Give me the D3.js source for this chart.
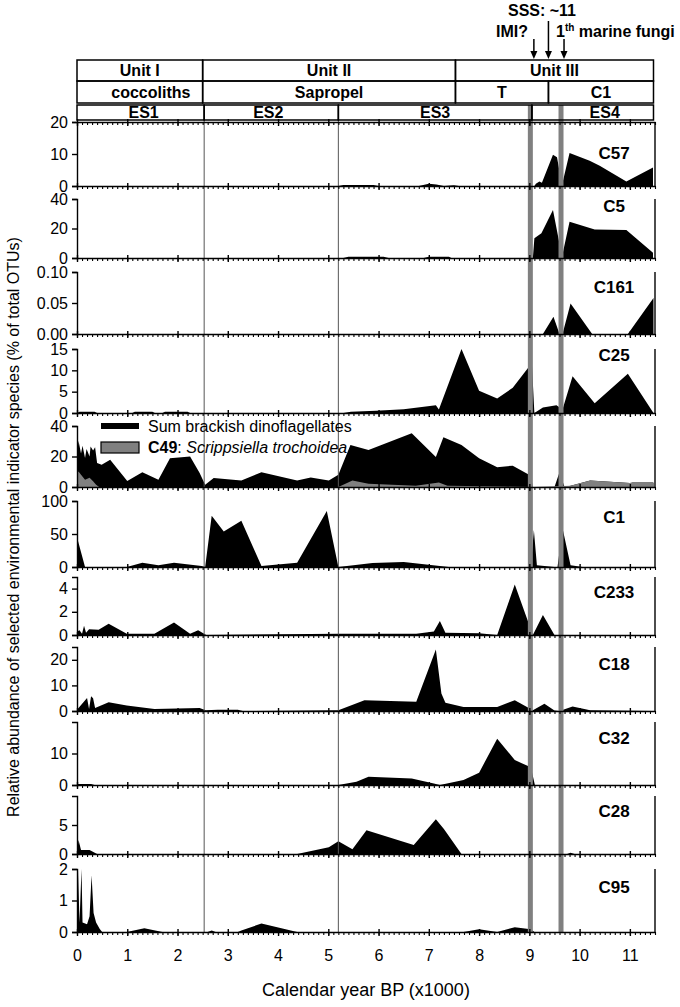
<!DOCTYPE html>
<html>
<head>
<meta charset="utf-8">
<script src="https://cdn.jsdelivr.net/npm/d3@7"></script>
<style>
body { margin:0; background:#fff; }
svg text { font-family:"Liberation Sans", Arial, sans-serif; fill:#000; }
</style>
</head>
<body>
<svg id="chart"></svg>
<script>
// ---- data, years in ka BP ----
var c57 = [[0,0],[5.2,0],[5.3,0.3],[5.9,0.3],[6.0,0],[6.8,0],[7.0,0.7],[7.15,0.5],[7.3,0],[7.5,0.2],[7.6,0],[9.1,0],[9.13,0.7],[9.2,1.4],[9.25,1.0],[9.47,9.8],[9.55,9.0],[9.65,0.3],[9.8,10.3],[10.2,7.9],[10.4,6.3],[10.93,1.4],[11.46,5.8]];
var c5 = [[0,0],[5.3,0],[5.4,0.8],[6.1,0.8],[6.2,0],[6.9,0],[7.0,0.8],[7.4,0.8],[7.45,0],[9.07,0],[9.1,13.4],[9.24,16.8],[9.47,32.5],[9.65,0.9],[9.8,24.6],[10.3,19.4],[10.93,19],[11.46,3.6]];
var c161 = [[0,0],[9.27,0],[9.48,0.028],[9.6,0],[9.66,0],[9.82,0.049],[10.25,0],[10.96,0],[11.47,0.058]];
var c25 = [[0,0],[0.05,0.3],[0.35,0.3],[0.4,0],[1.1,0],[1.15,0.3],[1.5,0.3],[1.55,0],[1.7,0],[1.75,0.3],[2.2,0.3],[2.25,0],[5.3,0],[5.45,0.3],[5.95,0.5],[6.5,0.9],[7.14,1.8],[7.2,0.8],[7.65,15],[8.0,5.2],[8.36,3.4],[8.67,5.9],[9.05,11.7],[9.1,0],[9.27,1.3],[9.54,1.8],[9.66,0.8],[9.86,8.6],[10.3,2.3],[10.96,9.2],[11.47,0]];
var sumBrackish = [[0,20],[0.03,30.4],[0.08,22],[0.11,27],[0.16,19],[0.19,25],[0.25,20],[0.27,26.5],[0.32,24],[0.36,26],[0.4,15.7],[0.49,14.6],[0.66,17.9],[1.0,4.0],[1.3,9.6],[1.62,4.8],[1.85,18.9],[2.25,20],[2.44,9.1],[2.55,1.5],[2.72,5.9],[3.27,4.3],[3.67,9.6],[4.38,4.3],[4.65,6.3],[5.01,4.3],[5.2,8],[5.44,27.6],[5.8,24.3],[6.66,35.2],[7.14,19.6],[7.29,32.6],[7.65,27.6],[8.0,18.9],[8.36,13],[8.67,14],[9.03,7.4],[9.07,0],[9.5,0],[9.6,9.6],[9.7,0],[9.82,0.9],[10.21,4.3],[11.0,2.6],[11.05,3.0],[11.47,3.0]];
var c49 = [[0,9],[0.03,10.2],[0.08,8],[0.16,4.8],[0.25,6],[0.32,3.7],[0.38,1.5],[0.44,0],[5.2,0],[5.48,4.3],[5.8,2.2],[6.74,0.9],[7.2,3],[7.37,0.9],[8.5,0.3],[9.05,0],[9.82,0.9],[10.21,4.3],[11.0,2.6],[11.47,2.6]];
var c1 = [[0,45],[0.16,0],[0.99,0],[1.3,6.6],[1.62,2.5],[1.93,6.6],[2.48,1.5],[2.55,0],[2.68,77.5],[2.92,53.6],[3.27,70],[3.67,1.5],[4.38,6.6],[4.97,84.7],[5.2,0],[5.88,6],[6.5,7.6],[7.22,1.5],[7.4,0],[9.03,0],[9.09,56],[9.15,2.5],[9.5,0],[9.56,0],[9.66,58.7],[9.82,2.5],[10.06,0]];
var c233 = [[0,0.3],[0.05,0.4],[0.1,0.1],[0.14,0.8],[0.18,0.2],[0.24,0.5],[0.43,0.45],[0.63,0.96],[0.99,0.1],[1.54,0.1],[1.93,1.08],[2.25,0.1],[2.41,0.4],[2.57,0],[5.2,0.1],[6.75,0.1],[7.1,0.3],[7.22,1.2],[7.33,0.2],[8.0,0.15],[8.36,0],[8.71,4.36],[9.07,0],[9.27,1.73],[9.5,0]];
var c18 = [[0,0.5],[0.2,5.1],[0.24,0.8],[0.28,5.8],[0.32,5.0],[0.36,1.2],[0.63,3.4],[0.99,2.1],[1.54,0.8],[2.44,1.2],[2.56,0.3],[2.8,0.5],[3.2,0.5],[3.3,0],[5.2,0.26],[5.72,4.2],[6.75,3.6],[7.14,24],[7.25,6.8],[7.33,3.2],[7.69,1.6],[8.36,1.6],[8.71,4.2],[9.07,0.26],[9.3,2.8],[9.5,0.2],[9.6,0],[9.86,1.8],[10.21,0.3],[11.47,0]];
var c32 = [[0,0.3],[0.28,0.3],[0.35,0],[5.2,0],[5.56,1.05],[5.8,2.6],[6.66,2.1],[7.1,0.5],[7.22,0],[7.69,1.6],[8.0,3.9],[8.36,14.7],[8.71,7.9],[9.03,5.6],[9.11,0]];
var c28 = [[0,0],[0.03,2.4],[0.08,0.7],[0.25,0.7],[0.4,0],[4.38,0],[5.01,1.15],[5.2,2.2],[5.48,0.8],[5.76,4.1],[6.7,1.55],[7.14,6.0],[7.3,4.3],[7.65,0],[9.75,0],[9.82,0.2],[9.9,0]];
var c95 = [[0,0.3],[0.02,2.0],[0.05,0.3],[0.09,2.0],[0.11,0.3],[0.2,0.25],[0.25,0.5],[0.29,1.8],[0.33,0.6],[0.38,0.3],[0.45,0.1],[0.5,0],[0.99,0],[1.34,0.12],[1.7,0],[2.6,0],[2.68,0.05],[2.76,0],[3.2,0],[3.27,0.05],[3.67,0.27],[4.38,0],[7.69,0],[8.0,0.09],[8.36,0],[8.71,0.15],[9.03,0.09],[9.1,0]];

var panelSeries = [c57, c5, c161, c25, sumBrackish, c1, c233, c18, c32, c28, c95];
var panelNames = ["C57","C5","C161","C25","","C1","C233","C18","C32","C28","C95"];
var panelMax = [20, 40, 0.1, 15, 40, 100, 5, 25, 20, 10, 2];
var panelTicks = [[0,10,20],[0,20,40],[0,0.05,0.1],[0,5,10,15],[0,20,40],[0,50,100],[0,2,4],[0,10,20],[0,10],[0,5],[0,1,2]];

var xMajorTicks = [0,1,2,3,4,5,6,7,8,9,10,11];

var unitNames = ["Unit I","Unit II","Unit III"];
var unitBounds = [0, 2.5, 7.53, 11.47];
var layerNames = ["coccoliths","Sapropel","T","C1"];
var layerBounds = [0, 2.5, 7.53, 9.38, 11.47];
var esNames = ["ES1","ES2","ES3","ES4"];
var esBounds = [0, 2.53, 5.2, 9.05, 11.47];
var bandYears = [9.02, 9.63];
var arrowYears = [9.09, 9.38, 9.69];

// ---- layout ----
var W = 680, H = 1007;
var panelTop =    [122, 199, 272, 349, 426, 501, 577, 647, 722, 796, 869];
var panelBottom = [186, 258, 334, 413, 487, 567, 635, 711, 785, 854, 932];
var labelDy =     [31, 7, 15, 6, 0, 16, 15, 17, 16, 15, 18];

var svg = d3.select("#chart")
    .attr("width", W)
    .attr("height", H);

//x scale shared by all panels
var x = d3.scaleLinear()
    .domain([0, 11.5])
    .range([77, 655]);

var minorTicks = d3.range(0, 116).map(function(i){ return i/10; });

var styleAxis = function(g)
{
    g.selectAll("path, line")
        .attr("stroke", "#000")
        .attr("stroke-width", 1.4);
    g.selectAll("text")
        .attr("font-family", "Liberation Sans, Arial, sans-serif")
        .attr("font-size", 16)
        .attr("fill", "#000");
};

var drawXTicks = function(yPos, withLabels)
{
    var minor = svg.append("g")
        .attr("transform", "translate(0," + yPos + ")")
        .call(d3.axisBottom(x).tickValues(minorTicks).tickSize(3).tickSizeOuter(0).tickFormat(""));
    styleAxis(minor);
    minor.selectAll(".tick line").attr("stroke-width", 1.1);

    var major = svg.append("g")
        .attr("transform", "translate(0," + yPos + ")")
        .call(d3.axisBottom(x).tickValues(xMajorTicks).tickSize(4).tickSizeOuter(0)
            .tickPadding(14)
            .tickFormat(withLabels ? d3.format("d") : ""));
    styleAxis(major);
    major.select(".domain").remove();
    major.selectAll(".tick line").attr("y1", -3);
};

//panels
var areasLayer = svg.append("g");
panelSeries.forEach(function(series, i)
{
    var y = d3.scaleLinear()
        .domain([0, panelMax[i]])
        .range([panelBottom[i], panelTop[i]]);

    var area = d3.area()
        .x(function(d){ return x(d[0]); })
        .y0(y(0))
        .y1(function(d){ return y(d[1]); });

    areasLayer.append("path")
        .datum(series)
        .attr("d", area)
        .attr("fill", "#000");

    if (i == 4)
    {
        areasLayer.append("path")
            .datum(c49)
            .attr("d", area)
            .attr("fill", "#808080");
    }
});

//event lines and bands
svg.selectAll(".esline")
    .data(esBounds.slice(1, 3))
    .enter()
    .append("line")
    .attr("x1", function(d){ return x(d); })
    .attr("x2", function(d){ return x(d); })
    .attr("y1", 119)
    .attr("y2", 932)
    .attr("stroke", "#555")
    .attr("stroke-width", 1);

svg.selectAll(".band")
    .data(bandYears)
    .enter()
    .append("rect")
    .attr("x", function(d){ return x(d) - 2.5; })
    .attr("y", 105)
    .attr("width", 5)
    .attr("height", 828)
    .attr("fill", "#808080");

//axes per panel
panelSeries.forEach(function(series, i)
{
    var y = d3.scaleLinear()
        .domain([0, panelMax[i]])
        .range([panelBottom[i], panelTop[i]]);

    var fmt = panelMax[i] < 1 ? d3.format(".2f") : d3.format("d");
    var left = svg.append("g")
        .attr("transform", "translate(" + x(0) + ",0)")
        .call(d3.axisLeft(y).tickValues(panelTicks[i]).tickSize(5).tickSizeOuter(5)
            .tickPadding(4).tickFormat(fmt));
    styleAxis(left);

    svg.append("line")
        .attr("x1", x(11.5)).attr("x2", x(11.5))
        .attr("y1", panelTop[i]).attr("y2", panelBottom[i])
        .attr("stroke", "#000")
        .attr("stroke-width", 1.4);

    drawXTicks(panelBottom[i], i == panelSeries.length - 1);

    if (panelNames[i] != "")
    {
        svg.append("text")
            .attr("x", 614)
            .attr("y", panelTop[i] + labelDy[i])
            .attr("dy", "0.36em")
            .attr("text-anchor", "middle")
            .attr("font-weight", "bold")
            .attr("font-size", 17)
            .text(panelNames[i]);
    }
});

//top border of first panel
drawXTicks(panelTop[0], false);

//legend in the sum panel
var legend = svg.append("g");
legend.append("rect")
    .attr("x", 101).attr("y", 423)
    .attr("width", 38).attr("height", 6)
    .attr("fill", "#000");
legend.append("text")
    .attr("x", 148).attr("y", 432)
    .attr("font-size", 16)
    .text("Sum brackish dinoflagellates");
legend.append("rect")
    .attr("x", 101).attr("y", 442)
    .attr("width", 38).attr("height", 11)
    .attr("fill", "#808080")
    .attr("stroke", "#000")
    .attr("stroke-width", 1.2);
var leg2 = legend.append("text")
    .attr("x", 148).attr("y", 453)
    .attr("font-size", 16);
leg2.append("tspan").attr("font-weight", "bold").text("C49");
leg2.append("tspan").text(": ");
leg2.append("tspan").attr("font-style", "italic").text("Scrippsiella trochoidea");

//header boxes
var drawRow = function(names, bounds, y0, h, offsets)
{
    names.forEach(function(name, i)
    {
        svg.append("rect")
            .attr("x", x(bounds[i]))
            .attr("y", y0)
            .attr("width", x(bounds[i+1]) - x(bounds[i]))
            .attr("height", h)
            .attr("fill", "none")
            .attr("stroke", "#000")
            .attr("stroke-width", 1.5);
        svg.append("text")
            .attr("x", (x(bounds[i]) + x(bounds[i+1]))/2 + offsets[i])
            .attr("y", y0 + h/2)
            .attr("dy", "0.36em")
            .attr("text-anchor", "middle")
            .attr("font-weight", "bold")
            .attr("font-size", 16)
            .text(name);
    });
};
drawRow(unitNames, unitBounds, 60, 21, [0,0,0]);
drawRow(layerNames, layerBounds, 81, 22, [11,0,0,0]);
drawRow(esNames, esBounds, 105, 15, [3,-3,0,12]);

//arrows
var arrowStart = [39, 21, 39];
arrowYears.forEach(function(yr, i)
{
    svg.append("line")
        .attr("x1", x(yr)).attr("x2", x(yr))
        .attr("y1", arrowStart[i]).attr("y2", 53)
        .attr("stroke", "#000")
        .attr("stroke-width", 1.5);
    svg.append("path")
        .attr("d", "M" + (x(yr)-3.5) + ",51L" + (x(yr)+3.5) + ",51L" + x(yr) + ",59Z")
        .attr("fill", "#000");
});

svg.append("text")
    .attr("x", 542).attr("y", 16)
    .attr("text-anchor", "middle")
    .attr("font-weight", "bold")
    .attr("font-size", 16)
    .text("SSS: ~11");
svg.append("text")
    .attr("x", 528).attr("y", 37)
    .attr("text-anchor", "end")
    .attr("font-weight", "bold")
    .attr("font-size", 16)
    .text("IMI?");
var fungi = svg.append("text")
    .attr("x", 556).attr("y", 37)
    .attr("font-weight", "bold")
    .attr("font-size", 16);
fungi.append("tspan").text("1");
fungi.append("tspan").attr("font-size", 10).attr("dy", -6).text("th");
fungi.append("tspan").attr("dy", 6).text(" marine fungi");

//axis titles
svg.append("text")
    .attr("x", 366).attr("y", 996)
    .attr("text-anchor", "middle")
    .attr("font-size", 18)
    .text("Calendar year BP (x1000)");
svg.append("text")
    .attr("transform", "translate(19,527) rotate(-90)")
    .attr("text-anchor", "middle")
    .attr("font-size", 16)
    .text("Relative abundance of selected environmental indicator species (% of total OTUs)");
</script>
</body>
</html>
